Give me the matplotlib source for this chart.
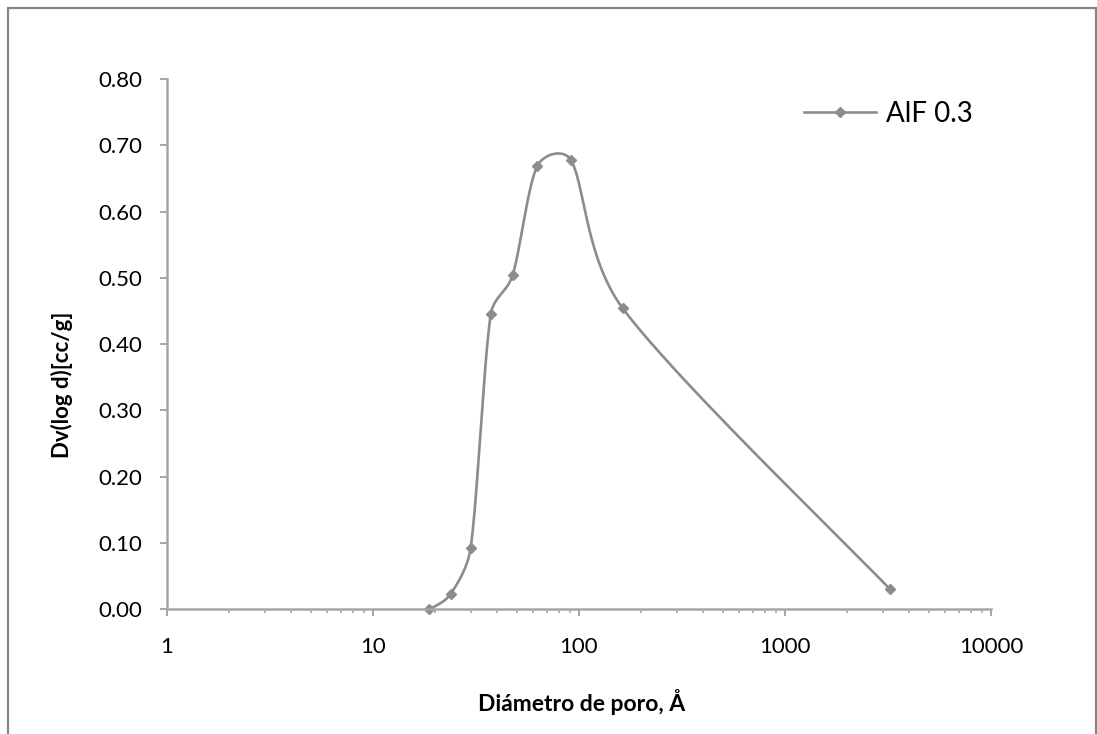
import matplotlib
matplotlib.use('Agg')
import matplotlib.pyplot as plt
import numpy as np
from matplotlib.lines import Line2D
from matplotlib.patches import Rectangle
from matplotlib.ticker import FixedLocator, FuncFormatter, NullFormatter

# pore size distribution
pore_diam = [18.8, 23.8, 29.8, 37.3, 47.6, 62.8, 91.2, 163.0, 3240.0]
dv_logd = [0.000, 0.023, 0.093, 0.445, 0.504, 0.669, 0.678, 0.454, 0.030]
series_name = 'AlF 0.3'
y_ticks = [0.0, 0.1, 0.2, 0.3, 0.4, 0.5, 0.6, 0.7, 0.8]
x_ticks = [1, 10, 100, 1000, 10000]

line_col = '#8c8c8c'
axis_col = '#a6a6a6'

plt.rcParams['font.family'] = ['Lato', 'DejaVu Sans']

W, H = 1097, 734
fig = plt.figure(figsize=(W / 100, H / 100), dpi=100)
ax = fig.add_axes([167 / W, 1 - 609.3 / H, (991 - 167) / W, (609.3 - 79) / H])

ax.set_xscale('log')
ax.set_xlim(1, 10000)
ax.set_ylim(0, 0.8)


def clamp(v, lim):
    n = np.hypot(*v)
    return v if n <= lim else v * lim / n


def excel_smooth(xs, ys, f=1 / 6, k=0.4, n=60):
    # smoothed line: bezier in screen space, control points from neighbours,
    # arms kept short on short segments
    pts = ax.transData.transform(np.column_stack([xs, ys]))
    p = np.vstack([pts[0], pts, pts[-1]])
    out = []
    t = np.linspace(0, 1, n)[:, None]
    for i in range(1, len(p) - 2):
        p0, p3 = p[i], p[i + 1]
        seglen = np.hypot(*(p3 - p0))
        c1 = p0 + clamp((p[i + 1] - p[i - 1]) * f, k * seglen)
        c2 = p3 - clamp((p[i + 2] - p[i]) * f, k * seglen)
        seg = ((1 - t) ** 3) * p0 + 3 * ((1 - t) ** 2) * t * c1 + 3 * (1 - t) * t ** 2 * c2 + t ** 3 * p3
        out.append(seg)
    curve = np.vstack(out)
    return ax.transData.inverted().transform(curve)


curve = excel_smooth(pore_diam, dv_logd)
ax.plot(curve[:, 0], curve[:, 1], color=line_col, lw=1.9, solid_capstyle='round', clip_on=False)
ax.plot(pore_diam, dv_logd, ls='none', marker='D', ms=5, color=line_col, clip_on=False)

ax.xaxis.set_major_locator(FixedLocator(x_ticks))
ax.xaxis.set_minor_locator(FixedLocator([m * 10 ** k for k in range(4) for m in range(2, 10)]))
ax.xaxis.set_major_formatter(FuncFormatter(lambda v, _: f'{v:g}'))
ax.xaxis.set_minor_formatter(NullFormatter())
ax.set_yticks(y_ticks)
ax.yaxis.set_major_formatter(FuncFormatter(lambda v, _: f'{v:.2f}'))

for s in ['top', 'right']:
    ax.spines[s].set_visible(False)
for s in ['left', 'bottom']:
    ax.spines[s].set_color(axis_col)
    ax.spines[s].set_linewidth(1.8)

ax.tick_params(axis='both', which='major', direction='out', length=5, width=1.4,
               color=axis_col, labelsize=16, labelcolor='black')
ax.tick_params(axis='x', which='minor', direction='out', length=3, width=1.2, color=axis_col)
ax.tick_params(axis='y', pad=13)
ax.tick_params(axis='x', pad=15)

fig.text(582 / W, 1 - 701.7 / H, 'Diámetro de poro, Å', ha='center', va='center',
         fontsize=16.5, fontweight='bold')
fig.text(62 / W, 1 - 385 / H, 'Dv(log d)[cc/g]', ha='center', va='center',
         rotation=90, fontsize=16, fontweight='bold')

handle = Line2D([], [], color=line_col, lw=1.9, marker='D', ms=5)
ax.legend([handle], [series_name], loc='center left', frameon=False,
          bbox_to_anchor=(804 / W, 1 - 114 / H), bbox_transform=fig.transFigure,
          borderpad=0, borderaxespad=0, handlelength=2.6, handletextpad=0.35,
          fontsize=20)

# outer chart border
fig.patches.append(Rectangle((8 / W, -0.05), (1095.5 - 8) / W, (H - 8) / H + 0.05,
                             transform=fig.transFigure, fill=False,
                             edgecolor='#868686', lw=1.6))

fig.savefig('out.png', dpi=100)
